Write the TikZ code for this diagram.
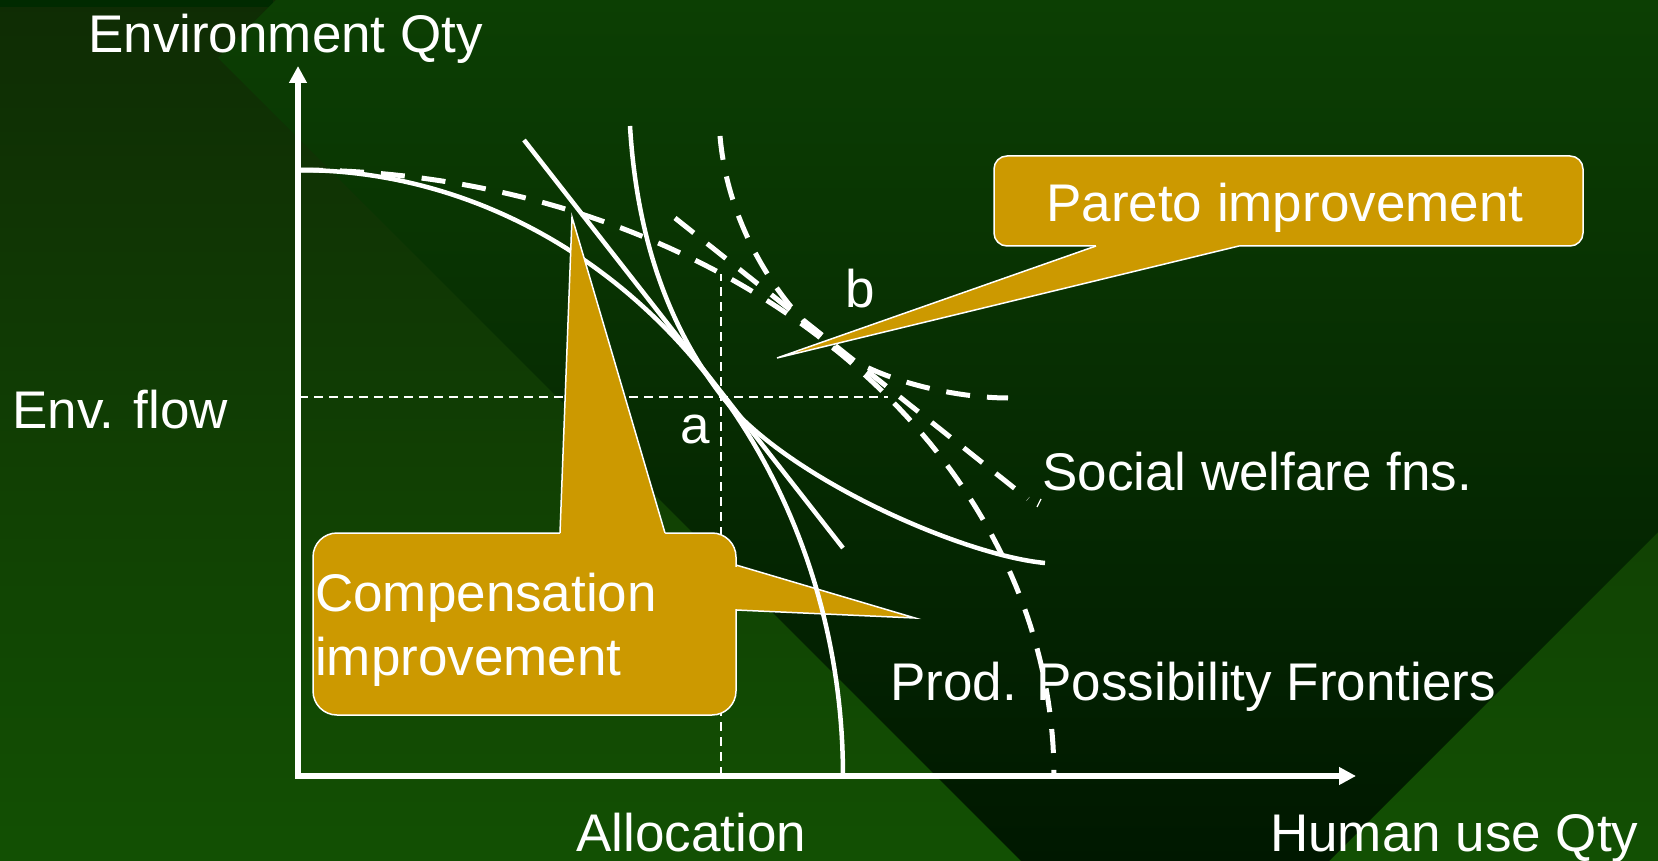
\documentclass[tikz,border=0pt]{standalone}
\usepackage{fontspec}
\setmainfont{Liberation Sans}
\usepackage{xcolor}
\usepackage{tikz}
\usetikzlibrary{calc}
\usetikzlibrary{arrows.meta}

\definecolor{calloutgold}{HTML}{CC9900}
\definecolor{bgtop}{HTML}{0F2C04}
\definecolor{bgbottom}{HTML}{125003}
\definecolor{bandtop}{HTML}{0C3F03}
\definecolor{bandmid}{HTML}{0A2D02}
\definecolor{bandbottom}{HTML}{001800}
\definecolor{stripdark}{HTML}{002A00}

\def\bigfont{\fontsize{53}{64}\selectfont}

\begin{document}
\begin{tikzpicture}[x=1pt,y=-1pt,
	txt/.style={text=white,inner sep=0pt,anchor=base west,font=\bigfont},
	axisline/.style={white,line width=5.5pt},
	solidcurve/.style={white,line width=4.5pt},
	dashcurve/.style={white,line width=5pt,dash pattern=on 24pt off 17pt},
	guideline/.style={white,line width=2.2pt,dash pattern=on 9pt off 6pt},
	calloutbox/.style={fill=calloutgold,draw=white,line width=1.5pt,inner sep=0pt},
	tailedge/.style={white,line width=1.5pt}]

	% background
	\useasboundingbox (0,0) rectangle (1658,861);
	\shade[top color=bgtop,bottom color=bgbottom] (0,0) rectangle (1658,861);
	\fill[stripdark] (0,0) rectangle (273,7);
	\shade[top color=bandtop,middle color=bandmid,bottom color=bandbottom]
		(276,0) -- (1658,0) -- (1658,532) -- (1329,861) -- (1021,861) -- (218,58) -- cycle;

	\coordinate (O) at (298,776);
	\coordinate (ytip) at (298,66);
	\coordinate (xtip) at (1356,776);
	\coordinate (a) at (721,395);
	\coordinate (b) at (828,344);

	% guides to the allocation
	\draw[guideline] (299,397) -- (888,397);
	\draw[guideline] (721,776) -- (721,274);

	% right pointer of the compensation box
	\coordinate (tipRight) at (915,618);
	\fill[calloutgold] (736,565) -- (tipRight) -- (736,610) -- cycle;
	\draw[tailedge] (736,565) -- (tipRight) -- (736,610);

	% production possibility frontiers
	\draw[solidcurve] plot[domain=0:90,samples=90] ({299+544*cos(\x)},{776-606*sin(\x)});
	\draw[dashcurve] plot[domain=90:0,samples=90] ({299+755*cos(\x)},{776-606*sin(\x)});
	% social welfare functions
	\draw[solidcurve] (630,126) .. controls (638,260) and (681,342) .. (a)
		.. controls (781,475) and (960,555) .. (1045,563);
	\draw[dashcurve] (720,136) .. controls (728,230) and (783,308) .. (b)
		.. controls (878,383) and (960,398) .. (1008,398);
	% tangent lines
	\draw[solidcurve] (524,140) -- (843,548);
	\draw[dashcurve] (675,218) -- (1028,499);
	\draw[white,line width=1.2pt] (1041,499) -- (1037,507);

	% axes
	\draw[axisline,{Triangle[width=17pt,length=17pt]}-{Triangle[width=17pt,length=17pt]}] (ytip) -- (O) -- (xtip);

	% compensation callout
	\node[calloutbox,rounded corners=24pt,minimum width=423pt,minimum height=182pt] (comp) at (524.5,624) {};
	\fill[calloutgold] (732,567) rectangle (740,609);
	\coordinate (tipUp) at (572,217);
	\fill[calloutgold] (560,539) -- (560,533) -- (tipUp) -- (665,533) -- (665,539) -- cycle;
	\draw[tailedge] (560,533) -- (tipUp) -- (665,533);

	% pareto callout
	\node[calloutbox,rounded corners=13pt,minimum width=589pt,minimum height=90pt] (pareto) at (1288.5,201) {};
	\coordinate (tipPareto) at (777,358);
	\fill[calloutgold] (1096,240) -- (1096,246) -- (tipPareto) -- (1239,246) -- (1239,240) -- cycle;
	\draw[tailedge] (1096,246) -- (tipPareto) -- (1239,246);

	% labels
	\node[txt] (envQty) at (88,53) {Environment Qty};
	\node[txt] (envFlow) at (12,428) {Env. flow};
	\node[txt] (alloc) at (576,851) {Allocation};
	\node[txt] (human) at (1270,851) {Human use Qty};
	\node[txt] (social) at (1042,490) {Social welfare fns.};
	\node[txt] (prod) at (890,700) {Prod. Possibility Frontiers};
	\node[txt] (lblA) at (680,443) {a};
	\node[txt] (lblB) at (845,308) {b};
	\node[txt] (paretoText) at (1046,222) {Pareto improvement};
	\node[txt] (compTextA) at (315,611) {Compensation};
	\node[txt] (compTextB) at (315,675) {improvement};
\end{tikzpicture}
\end{document}
